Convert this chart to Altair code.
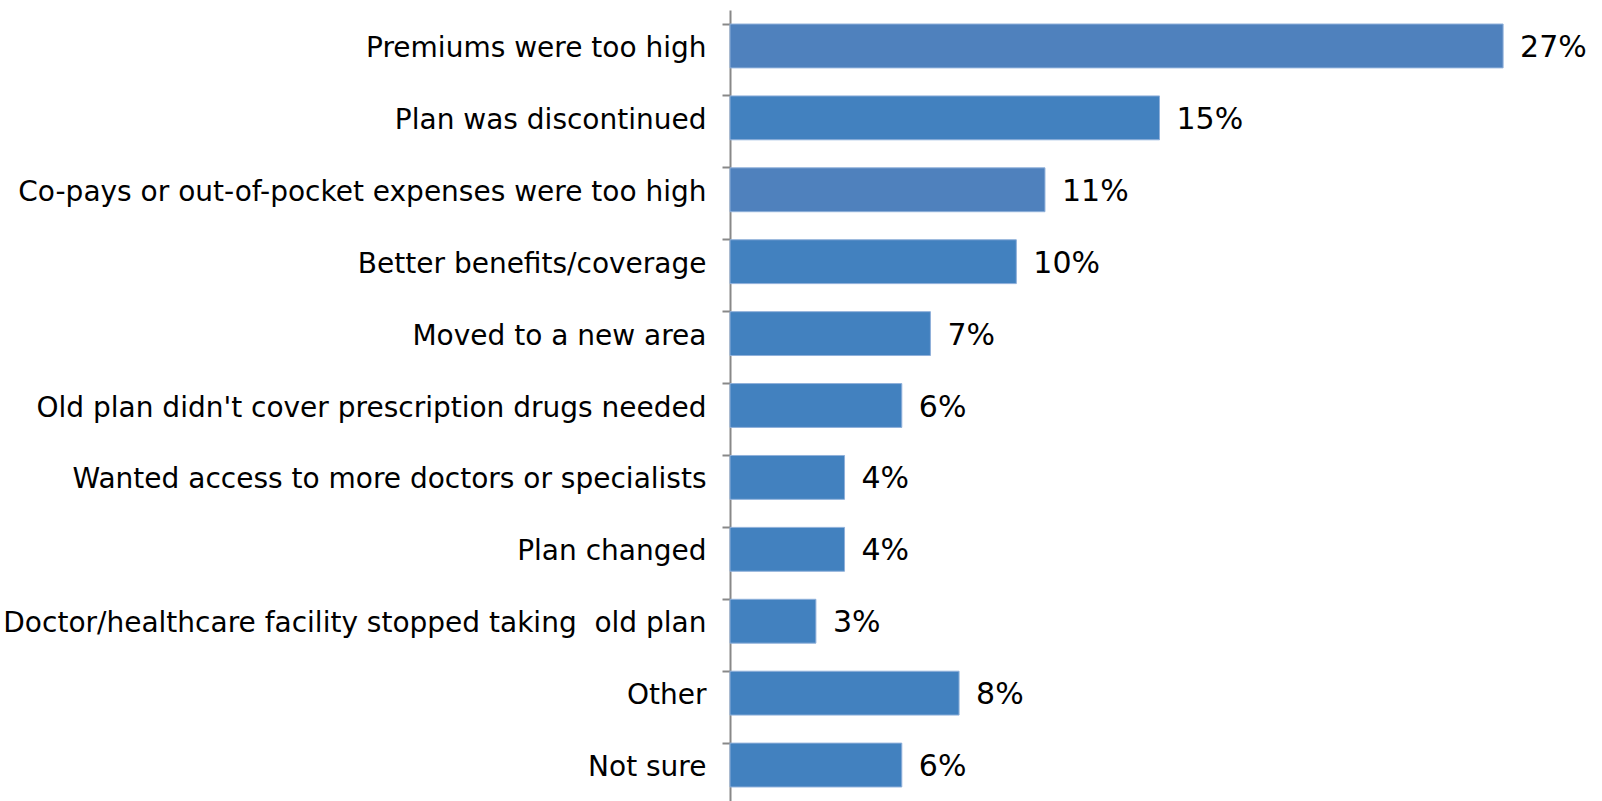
import altair as alt
import pandas as pd

categories = [
    "Premiums were too high",
    "Plan was discontinued",
    "Co-pays or out-of-pocket expenses were too high",
    "Better benefits/coverage",
    "Moved to a new area",
    "Old plan didn't cover prescription drugs needed",
    "Wanted access to more doctors or specialists",
    "Plan changed",
    "Doctor/healthcare facility stopped taking \u00a0old plan",
    "Other",
    "Not sure",
]
values = [27, 15, 11, 10, 7, 6, 4, 4, 3, 8, 6]
labels = ["27%", "15%", "11%", "10%", "7%", "6%", "4%", "4%", "3%", "8%", "6%"]
bar_colors = ["#4F81BD", "#4281BF", "#4F81BD", "#4281BF", "#4281BF", "#4281BF",
              "#4281BF", "#4281BF", "#4281BF", "#4281BF", "#4281BF"]

df = pd.DataFrame({"cat": categories, "val": values, "lab": labels, "col": bar_colors})

y = alt.Y("cat:N", sort=categories, title=None,
          scale=alt.Scale(paddingInner=0.39, paddingOuter=0.195),
          axis=alt.Axis(bandPosition=0, domainColor="#888888", domainWidth=2,
                        tickColor="#888888", tickWidth=2, tickSize=8,
                        labelFont="DejaVu Sans", labelFontSize=28, labelOffset=3,
                        labelColor="#000000", labelPadding=16, labelLimit=800))
x = alt.X("val:Q", scale=alt.Scale(domain=[0, 30]), axis=None)

bars = alt.Chart(df).mark_bar(stroke="#8FB0DA", strokeWidth=1).encode(
    y=y, x=x, color=alt.Color("col:N", scale=None))

text = alt.Chart(df).mark_text(align="left", baseline="middle", dx=17, dy=2,
                               font="DejaVu Sans", fontSize=30, color="#000000").encode(
    y=alt.Y("cat:N", sort=categories), x="val:Q", text="lab:N")

chart = (bars + text).properties(
    width=859, height=791,
    background="#ffffff",
    autosize=alt.AutoSizeParams(type="none"),
    padding={"left": 730, "top": 10, "right": 13, "bottom": 0},
).configure_view(stroke=None)

chart.save("out.html", embed_options={"renderer": "svg", "actions": False})
